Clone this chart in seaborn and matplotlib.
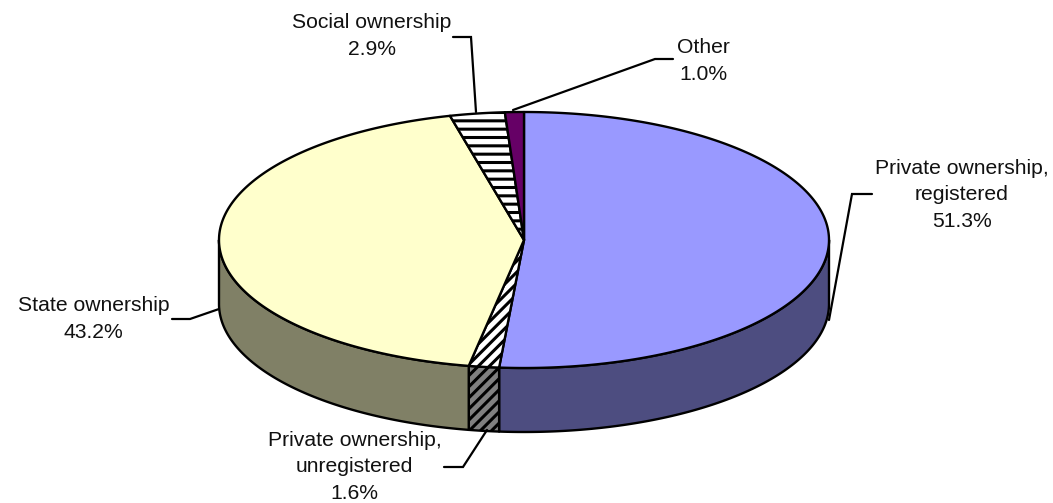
import numpy as np
import matplotlib
matplotlib.use("Agg")
import matplotlib.pyplot as plt
import seaborn as sns

categories = ["Private ownership,\nregistered", "Private ownership,\nunregistered",
              "State ownership", "Social ownership", "Other"]
values = [51.3, 1.6, 43.2, 2.9, 1.0]
top_colors = ["#9999FF", "#FFFFFF", "#FFFFCC", "#FFFFFF", "#660066"]
side_colors = ["#4D4D80", "#808080", "#808066", "#808080", "#330033"]
hatches = [None, "///", None, "--", None]
label_centers = [(962, 195), (354.5, 467), (93.5, 319), (372, 36), (703.5, 61)]
leaders = [[(872, 194), (852, 194), (829, 320)],
           [(444, 467), (463, 467), (487, 430)],
           [(172, 319), (190, 319), (219, 309)],
           [(453, 37), (471, 37), (476, 112)],
           [(673, 59), (655, 59), (513, 110)]]

CX, CY, RX, RY, DEPTH = 524, 240, 305, 128, 64
LW = 1.7

sns.set_theme(style="white")
plt.rcParams["font.family"] = ["Liberation Sans", "DejaVu Sans"]
plt.rcParams["hatch.linewidth"] = 2.2

fig = plt.figure(figsize=(10.53, 5.03), dpi=100)
ax = fig.add_axes([0, 0, 1, 1])
ax.set_xlim(0, 1053)
ax.set_ylim(503, 0)
ax.axis("off")


def arc(a0, a1, dy=0.0):
    t = np.radians(np.linspace(a0, a1, max(int(abs(a1 - a0) * 2), 2)))
    return CX + RX * np.sin(t), CY + RY * -np.cos(t) + dy


edges = np.concatenate([[0], np.cumsum(values)]) / sum(values) * 360

# side walls: only the front half (90..270 degrees clockwise from the top)
for i in range(len(values)):
    a0, a1 = max(edges[i], 90), min(edges[i + 1], 270)
    if a1 <= a0:
        continue
    x0, y0 = arc(a0, a1)
    x1, y1 = arc(a1, a0, DEPTH)
    ax.fill(np.r_[x0, x1], np.r_[y0, y1], facecolor=side_colors[i], edgecolor="black",
            lw=LW, hatch=hatches[i], joinstyle="round", zorder=2)

# top faces
for i in range(len(values)):
    x, y = arc(edges[i], edges[i + 1])
    ax.fill(np.r_[CX, x], np.r_[CY, y], facecolor=top_colors[i], edgecolor="black",
            lw=LW, hatch=hatches[i], joinstyle="round", zorder=3)

# leader lines and labels
for cat, val, (tx, ty), pts in zip(categories, values, label_centers, leaders):
    xs, ys = zip(*pts)
    ax.plot(xs, ys, color="black", lw=1.6, solid_joinstyle="miter", zorder=4)
    ax.text(tx, ty, f"{cat}\n{val:.1f}%", ha="center", va="center", fontsize=15.2,
            color="#111111", linespacing=1.5, zorder=5)

fig.savefig("out.png", dpi=100)
